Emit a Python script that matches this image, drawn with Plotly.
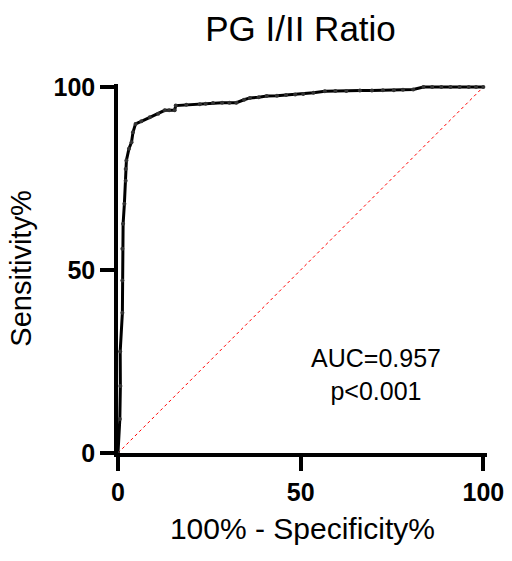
import plotly.graph_objects as go

fpr = [0, 0.5, 0.65, 0.6, 1.2, 1.2, 1.2, 1.4, 1.75, 2.1, 2.1, 2.3, 3.0, 3.7, 4.1, 4.8, 6.4, 8.7, 11.0, 12.8, 14.0, 15.5, 15.8,
       18.7, 22.4, 24.0, 26.0, 28.5, 30.5, 32.4, 34.5, 36.1, 38.5, 40.7, 43.5, 46.0, 48.5, 50.7, 53.5, 56.6, 59.5, 62.5,
       66.2, 69.5, 72.5, 75.5, 78.0, 80.8, 83.6, 86.0, 88.5, 91.0, 93.5, 96.0, 98.0, 100]
tpr = [0, 9.3, 18.3, 27.7, 38.3, 47.1, 55.8, 62.6, 68.1, 74.4, 77.6, 79.9, 83.1, 84.9, 87.6, 89.9, 90.6, 91.7, 92.7, 93.6, 93.6, 93.6, 94.9,
       95.1, 95.3, 95.4, 95.6, 95.7, 95.7, 95.7, 96.5, 97.0, 97.2, 97.5, 97.6, 97.8, 97.9, 98.1, 98.4, 98.8, 98.9, 98.9,
       99.0, 99.0, 99.1, 99.1, 99.2, 99.3, 100, 100, 100, 100, 100, 100, 100, 100]
diag = [0, 100]
ticks = [0, 50, 100]
FONT = "Liberation Sans, Arial"

fig = go.Figure()
fig.add_trace(go.Scatter(x=diag, y=diag, mode="lines",
                         line=dict(color="red", width=1, dash="dot"), cliponaxis=False))
fig.add_trace(go.Scatter(x=fpr, y=tpr, mode="lines+markers",
                         line=dict(color="black", width=3),
                         marker=dict(color="#333333", size=4), cliponaxis=False))

fig.add_annotation(x=70.7, y=21.4, xref="x", yref="y", showarrow=False,
                   text="AUC=0.957<br>p&lt;0.001", align="center",
                   font=dict(family=FONT, size=25, color="black"))

axis_common = dict(tickvals=ticks, ticks="outside", ticklen=14, tickwidth=3.5,
                   tickcolor="black", showline=True, linecolor="black", linewidth=3.5,
                   showgrid=False, zeroline=False, automargin=False,
                   tickfont=dict(family=FONT, size=25, color="black", weight="bold"))

fig.update_layout(
    width=512, height=561,
    margin=dict(l=118, r=25, t=84, b=108, autoexpand=False),
    plot_bgcolor="white", paper_bgcolor="white",
    showlegend=False,
    title=dict(text="PG I/II Ratio", x=0.5, xref="container", xanchor="center", y=0.948, yanchor="middle",
               font=dict(family=FONT, size=35, color="black")),
    xaxis=dict(**axis_common, range=[0, 101], title=dict(text="100% - Specificity%", standoff=14,
               font=dict(family=FONT, size=30, color="black"))),
    yaxis=dict(**axis_common, range=[0, 100.8], title=dict(text="Sensitivity%", standoff=14,
               font=dict(family=FONT, size=29, color="black"))),
)
fig.update_layout(title=dict(x=(118 + 483) / 2 / 512))

fig.write_html("out.html")
